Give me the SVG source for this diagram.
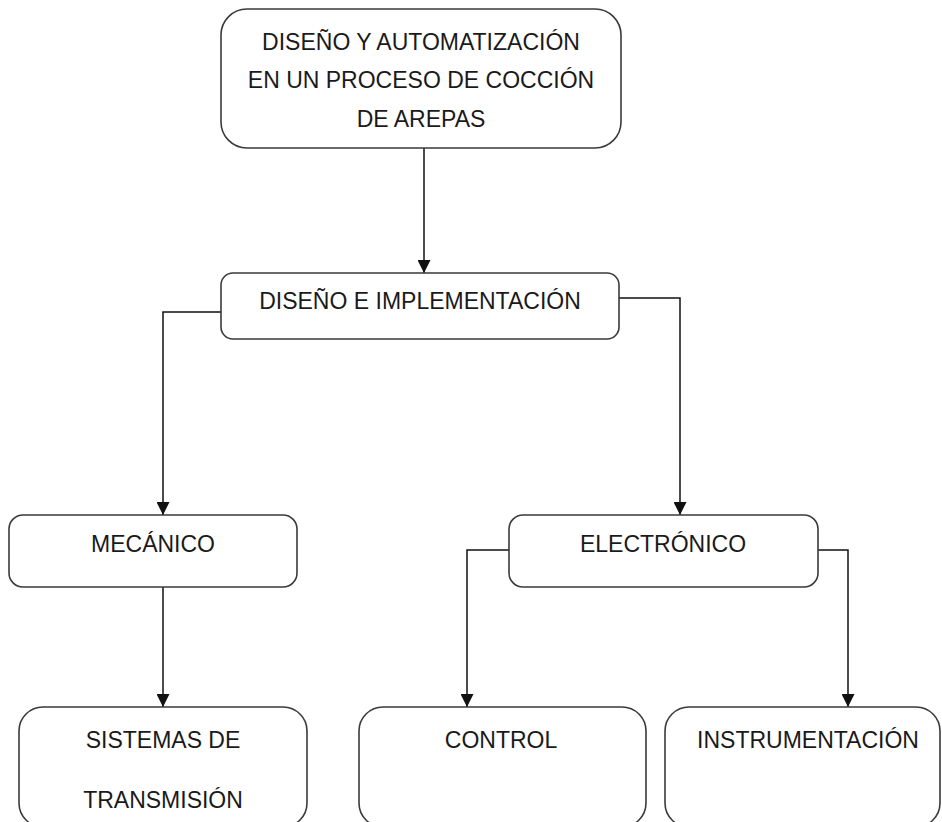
<svg xmlns="http://www.w3.org/2000/svg" width="942" height="822" viewBox="0 0 942 822">
<style>
.box{fill:#fff;stroke:#3a3a3a;stroke-width:1.6}
.t{font-family:"Liberation Sans",Arial,sans-serif;font-size:23px;fill:#1a1a1a;text-anchor:middle}
.c{fill:none;stroke:#111;stroke-width:1.5}
</style>
<defs>
<marker id="ah" viewBox="0 0 13 13" refX="13" refY="6.5" markerWidth="13" markerHeight="13" markerUnits="userSpaceOnUse" orient="auto">
<path d="M0,0 L13,6.5 L0,13 Z" fill="#111"/>
</marker>
</defs>
<rect width="942" height="822" fill="#fff"/>
<g id="connectors">
<path class="c" d="M424,148 V273" marker-end="url(#ah)"/>
<path class="c" d="M221,312 H163 V515" marker-end="url(#ah)"/>
<path class="c" d="M619,298 H680 V515" marker-end="url(#ah)"/>
<path class="c" d="M163,587 V707" marker-end="url(#ah)"/>
<path class="c" d="M509,550 H467 V707" marker-end="url(#ah)"/>
<path class="c" d="M818,550 H848 V707" marker-end="url(#ah)"/>
</g>
<g id="n-root">
<rect class="box" x="221" y="9" width="400" height="139" rx="26"/>
<text class="t" x="421" y="50">DISEÑO Y AUTOMATIZACIÓN</text>
<text class="t" x="421" y="88">EN UN PROCESO DE COCCIÓN</text>
<text class="t" x="421" y="127">DE AREPAS</text>
</g>
<g id="n-diseno">
<rect class="box" x="221" y="273" width="398" height="66" rx="12"/>
<text class="t" x="420" y="309">DISEÑO E IMPLEMENTACIÓN</text>
</g>
<g id="n-mecanico">
<rect class="box" x="9" y="515" width="288" height="72" rx="14"/>
<text class="t" x="153" y="552">MECÁNICO</text>
</g>
<g id="n-electronico">
<rect class="box" x="509" y="515" width="309" height="72" rx="14"/>
<text class="t" x="663" y="552">ELECTRÓNICO</text>
</g>
<g id="n-sistemas">
<rect class="box" x="19" y="707" width="288" height="120" rx="24"/>
<text class="t" x="163" y="748">SISTEMAS DE</text>
<text class="t" x="163" y="808">TRANSMISIÓN</text>
</g>
<g id="n-control">
<rect class="box" x="359" y="707" width="287" height="120" rx="24"/>
<text class="t" x="501" y="748">CONTROL</text>
</g>
<g id="n-instrumentacion">
<rect class="box" x="665" y="707" width="275" height="120" rx="24"/>
<text class="t" x="808" y="748">INSTRUMENTACIÓN</text>
</g>
</svg>
